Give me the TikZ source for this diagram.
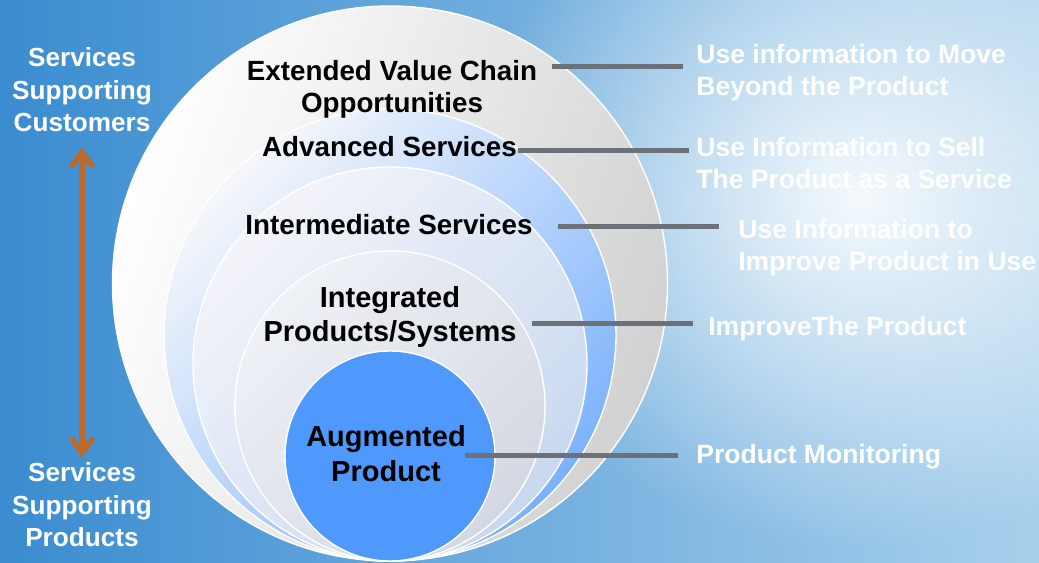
\documentclass[tikz,border=0pt]{standalone}
\usepackage{fontspec}
\setmainfont{Liberation Sans}
\usetikzlibrary{positioning,arrows.meta,fadings}

\definecolor{bgleft}{HTML}{3A8CD0}
\definecolor{bgmid}{HTML}{9CC8E8}
\definecolor{bgright}{HTML}{A8D0EC}
\definecolor{leadgray}{HTML}{6B7079}
\definecolor{rust}{HTML}{BC682A}
\definecolor{coreblue}{HTML}{4F98FC}
\tikzfading[name=glow, inner color=transparent!0, outer color=transparent!100]

\begin{document}
\begin{tikzpicture}[
  ring/.style={draw=white,line width=0.8pt},
  layer/.style={font=\bfseries\fontsize{15.8}{18.2}\selectfont,align=center,inner sep=0pt},
  core/.style={layer,font=\bfseries\fontsize{16.5}{19.9}\selectfont},
  note/.style={font=\bfseries\fontsize{15.1}{18.2}\selectfont,text=white,align=left,anchor=west,inner sep=0pt},
  side/.style={font=\bfseries\fontsize{14.9}{18.5}\selectfont,text=white,align=center,inner sep=0pt},
  lead/.style={draw=leadgray,line width=0.1cm}]
\useasboundingbox (0,0) rectangle (20.78,11.26);
% backdrop
\shade[left color=bgleft,middle color=bgmid,right color=bgright] (0,0) rectangle (20.78,11.26);
\fill[white,path fading=glow,fill opacity=0.9] (17.2,7.3) ellipse (8 and 7);

% nested rings, all touching at the bottom
\shade[ring,top color=white,bottom color=black!18,shading angle=70] (7.8,5.59) circle (5.55);
\shade[ring,top color={rgb,255:red,245;green,247;blue,250},bottom color=coreblue!75,shading angle=45] (7.8,4.56) circle (4.52);
\shade[ring,top color={rgb,255:red,242;green,244;blue,249},bottom color={rgb,255:red,201;green,216;blue,240},shading angle=45] (7.8,3.98) circle (3.94);
\shade[ring,top color={rgb,255:red,238;green,241;blue,246},bottom color={rgb,255:red,211;green,216;blue,226},shading angle=45] (7.8,3.14) circle (3.10);
\fill[ring,fill=coreblue] (7.8,2.14) circle (2.10);

% ring labels
\node[layer] (ext) at (7.84,9.48) {Extended Value Chain\\Opportunities};
\node[layer] (adv) at (7.79,8.32) {Advanced Services};
\node[layer] (mid) at (7.78,6.76) {Intermediate Services};
\node[core] (sys) at (7.8,4.92) {Integrated\\Products/Systems};
\node[core] (aug) at (7.72,2.18) {Augmented\\Product};

% what each level is used for
\node[note] (use1) at (13.92,9.81) {Use information to Move\\Beyond the Product};
\node[note] (use2) at (13.92,8.0) {Use Information to Sell\\The Product as a Service};
\node[note] (use3) at (14.76,6.31) {Use Information to\\Improve Product in Use};
\node[note] (use4) at (14.16,4.69) {ImproveThe Product};
\node[note] (use5) at (13.92,2.13) {Product Monitoring};

\coordinate (k1) at (11.04,9.92);
\coordinate (k2) at (10.36,8.24);
\coordinate (k3) at (11.16,6.72);
\coordinate (k4) at (10.64,4.78);
\coordinate (k5) at (9.30,2.14);
\draw[lead,shorten >=0.26cm] (k1) -- (k1 -| use1.west);
\draw[lead,shorten >=0.14cm] (k2) -- (k2 -| use2.west);
\draw[lead,shorten >=0.38cm] (k3) -- (k3 -| use3.west);
\draw[lead,shorten >=0.30cm] (k4) -- (k4 -| use4.west);
\draw[lead,shorten >=0.36cm] (k5) -- (k5 -| use5.west);

% customer / product axis
\node[side] (cust) at (1.64,9.46) {Services\\Supporting\\Customers};
\node[side] (prod) at (1.64,1.16) {Services\\Supporting\\Products};
\draw[rust,line width=0.11cm,{Straight Barb[length=0.3cm,width=0.44cm]}-{Straight Barb[length=0.3cm,width=0.44cm]},
  shorten <=0.3cm,shorten >=0.1cm] (cust.south) -- (prod.north);
\end{tikzpicture}
\end{document}
